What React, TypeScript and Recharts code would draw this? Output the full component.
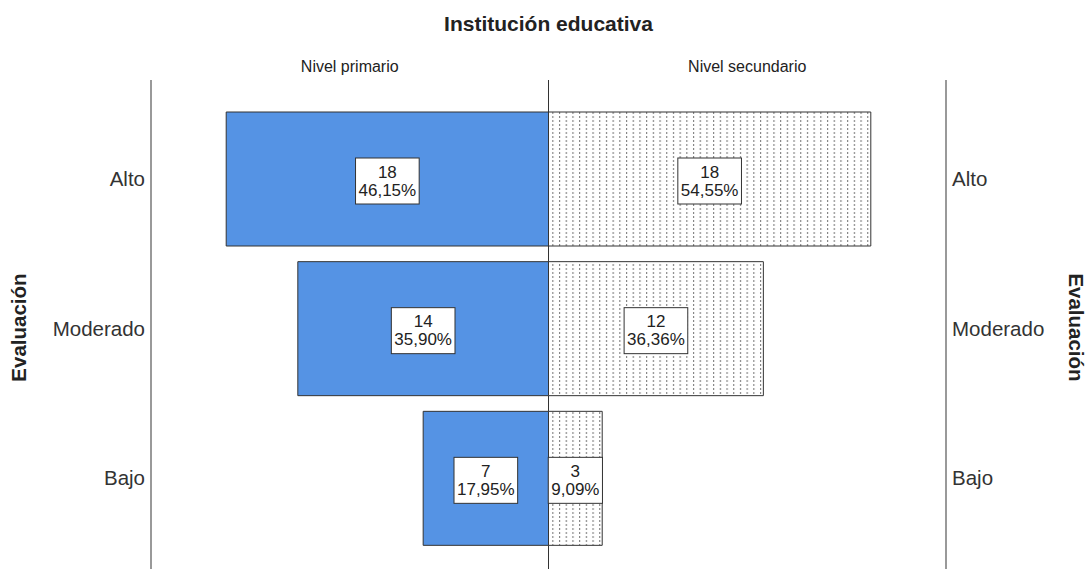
import React from "react";
import {
  BarChart,
  Bar,
  XAxis,
  YAxis,
  CartesianGrid,
  LabelList,
} from "recharts";

const categories = ["Alto", "Moderado", "Bajo"];
const primaryCounts = [18, 14, 7];
const primaryPct = ["46,15%", "35,90%", "17,95%"];
const secondaryCounts = [18, 12, 3];
const secondaryPct = ["54,55%", "36,36%", "9,09%"];
const groupLabels = ["Nivel primario", "Nivel secundario"];

const FONT = '"Liberation Sans", Arial, sans-serif';
const BLUE = "#5593E4";
const TEXT = "#222222";
const AXIS_GREY = "#9a9a9a";
const HALF = 22.2;

// primary level goes to the left, so its counts are negated
const rows = categories.map((cat, i) => ({
  cat,
  primary: -primaryCounts[i],
  secondary: secondaryCounts[i],
}));

// rough Arial advance widths, used to size the label boxes
const charW = (c: string) => (c === "," ? 0.278 : c === "%" ? 0.889 : 0.556);
const textW = (s: string, size: number) =>
  s.split("").reduce((w, c) => w + charW(c), 0) * size;

const makeBoxLabel =
  (counts: number[], pcts: string[]) =>
  (props: any) => {
    const { x, y, width, height, index } = props;
    const cx = Number(x) + Number(width) / 2;
    const cy = Number(y) + Number(height) / 2 + 2;
    const top = String(counts[index]);
    const bottom = pcts[index];
    const w = Math.max(textW(top, 17), textW(bottom, 17)) + 6;
    const h = 46;
    return (
      <g>
        <rect
          x={cx - w / 2}
          y={cy - h / 2}
          width={w}
          height={h}
          fill="#ffffff"
          stroke="#333333"
          strokeWidth={1}
        />
        <text
          x={cx}
          y={cy - 9}
          textAnchor="middle"
          dominantBaseline="central"
          fontSize={17}
          fontFamily={FONT}
          fill={TEXT}
        >
          {top}
        </text>
        <text
          x={cx}
          y={cy + 9}
          textAnchor="middle"
          dominantBaseline="central"
          fontSize={17}
          fontFamily={FONT}
          fill={TEXT}
        >
          {bottom}
        </text>
      </g>
    );
  };

const GroupTick = (props: any) => {
  const { x, payload } = props;
  const label = payload.value < 0 ? groupLabels[0] : groupLabels[1];
  return (
    <text
      x={x}
      y={72}
      textAnchor="middle"
      fontSize={16}
      fontFamily={FONT}
      fill={TEXT}
    >
      {label}
    </text>
  );
};

const SideLabel = (side: "left" | "right") => (props: any) => {
  const vb = props.viewBox || {};
  const cy = vb.y + vb.height / 2 + 3;
  const cx = side === "left" ? 18 : 1076;
  return (
    <text
      x={cx}
      y={cy}
      transform={`rotate(${side === "left" ? -90 : 90} ${cx} ${cy})`}
      textAnchor="middle"
      dominantBaseline="central"
      fontSize={20.5}
      fontWeight="bold"
      fontFamily={FONT}
      fill={TEXT}
    >
      Evaluación
    </text>
  );
};

export default function App() {
  return (
    <div
      style={{
        position: "absolute",
        left: 0,
        top: 0,
        width: 1086,
        height: 569,
        background: "#ffffff",
        fontFamily: FONT,
      }}
    >
      <div
        style={{
          position: "absolute",
          left: 0,
          width: 1097,
          top: 12,
          textAlign: "center",
          fontSize: 21,
          fontWeight: "bold",
          color: TEXT,
        }}
      >
        Institución educativa
      </div>

      <BarChart
        width={1086}
        height={569}
        data={rows}
        layout="vertical"
        stackOffset="sign"
        margin={{ top: 50, right: 0, bottom: 0, left: 0 }}
      >
        <defs>
          <pattern id="dots" width={6.7} height={4} patternUnits="userSpaceOnUse">
            <rect x={0} y={0} width={6.7} height={4} fill="#ffffff" />
            <rect x={3} y={0} width={1} height={2} fill="#6f6f6f" />
          </pattern>
        </defs>

        {/* center divider comes from the single tick at 0 */}
        <CartesianGrid
          xAxisId="main"
          yAxisId="left"
          horizontal={false}
          stroke="#333333"
          strokeDasharray=""
        />

        <XAxis
          xAxisId="main"
          type="number"
          domain={[-HALF, HALF]}
          ticks={[0]}
          hide
        />
        <XAxis
          xAxisId="top"
          type="number"
          orientation="top"
          domain={[-HALF, HALF]}
          ticks={[-HALF / 2, HALF / 2]}
          height={30}
          axisLine={false}
          tickLine={false}
          tick={<GroupTick />}
        />

        <YAxis
          yAxisId="left"
          type="category"
          dataKey="cat"
          orientation="left"
          width={151}
          padding={{ top: 24, bottom: 16 }}
          axisLine={{ stroke: AXIS_GREY, strokeWidth: 1.5 }}
          tickLine={false}
          tickMargin={0}
          tick={{ fontSize: 20.5, fill: "#333333", fontFamily: FONT }}
          label={{ content: SideLabel("left") }}
        />
        <YAxis
          yAxisId="right"
          type="category"
          dataKey="cat"
          orientation="right"
          width={140}
          padding={{ top: 24, bottom: 16 }}
          axisLine={{ stroke: AXIS_GREY, strokeWidth: 1.5 }}
          tickLine={false}
          tickMargin={0}
          tick={{ fontSize: 20.5, fill: "#333333", fontFamily: FONT }}
          label={{ content: SideLabel("right") }}
        />

        <Bar
          xAxisId="main"
          yAxisId="left"
          dataKey="primary"
          stackId="pyr"
          barSize={134}
          fill={BLUE}
          stroke="#333333"
          strokeWidth={1}
          isAnimationActive={false}
        >
          <LabelList
            dataKey="primary"
            content={makeBoxLabel(primaryCounts, primaryPct)}
          />
        </Bar>
        <Bar
          xAxisId="top"
          yAxisId="left"
          dataKey="secondary"
          stackId="pyr"
          barSize={134}
          fill="url(#dots)"
          stroke="#333333"
          strokeWidth={1}
          isAnimationActive={false}
        >
          <LabelList
            dataKey="secondary"
            content={makeBoxLabel(secondaryCounts, secondaryPct)}
          />
        </Bar>
      </BarChart>
    </div>
  );
}
